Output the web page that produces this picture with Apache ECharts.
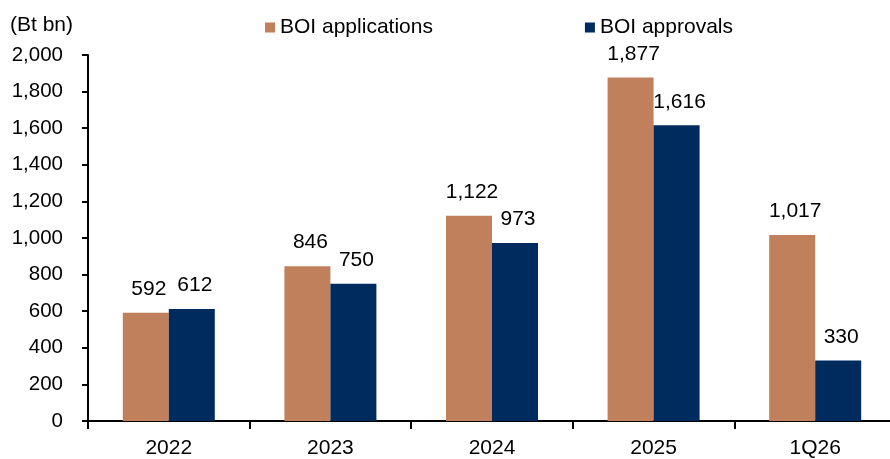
<!DOCTYPE html>
<html>
<head>
<meta charset="utf-8">
<script src="https://cdn.jsdelivr.net/npm/echarts@6/dist/echarts.min.js"></script>
<style>
html,body{margin:0;padding:0;background:#fff;overflow:hidden;width:890px;height:459px;}
#chart{width:897px;height:459px;}
</style>
</head>
<body>
<div id="chart"></div>
<script>
const categories = ['2022', '2023', '2024', '2025', '1Q26'];
const applications = [592, 846, 1122, 1877, 1017];
const approvals = [612, 750, 973, 1616, 330];
const seriesNames = ['BOI applications', 'BOI approvals'];
const unitLabel = '(Bt bn)';

const FONT = 'Liberation Sans, Arial, sans-serif';
const fmt = v => String(v).replace(/\B(?=(\d{3})+(?!\d))/g, ',');

const chart = echarts.init(document.getElementById('chart'), null, {renderer: 'canvas'});
chart.setOption({
  animation: false,
  backgroundColor: '#ffffff',
  textStyle: {fontFamily: FONT, color: '#000'},
  graphic: [{
    type: 'text', left: 10, top: 15,
    style: {text: unitLabel, font: '21px ' + FONT, fill: '#000'}
  }],
  legend: {
    left: 260, top: 12,
    icon: 'rect', itemWidth: 10, itemHeight: 10, itemGap: 152,
    textStyle: {fontSize: 21, fontFamily: FONT, color: '#000'},
    data: seriesNames
  },
  grid: {left: 88, right: 1, top: 55, bottom: 36, containLabel: false},
  xAxis: {
    type: 'category',
    data: categories,
    axisLine: {lineStyle: {color: '#000', width: 2}},
    axisTick: {show: true, length: 8, lineStyle: {color: '#000', width: 2}},
    axisLabel: {fontSize: 21, fontFamily: FONT, color: '#000', margin: 17}
  },
  yAxis: {
    type: 'value', min: 0, max: 2000, interval: 200,
    axisLine: {show: true, lineStyle: {color: '#000', width: 2}},
    axisTick: {show: true, length: 6, lineStyle: {color: '#000', width: 2}},
    splitLine: {show: false},
    axisLabel: {fontSize: 20.5, fontFamily: FONT, color: '#000', margin: 25, formatter: fmt}
  },
  series: [
    {
      name: seriesNames[0], type: 'bar', data: applications,
      barWidth: 46, barGap: '0%',
      itemStyle: {color: '#C0805B'},
      label: {show: true, position: 'top', distance: 13, offset: [3, 0],
        fontSize: 21, fontFamily: FONT, color: '#000', formatter: p => fmt(p.value)}
    },
    {
      name: seriesNames[1], type: 'bar', data: approvals,
      barWidth: 46, barGap: '0%',
      itemStyle: {color: '#002B5F'},
      label: {show: true, position: 'top', distance: 13, offset: [3, 0],
        fontSize: 21, fontFamily: FONT, color: '#000', formatter: p => fmt(p.value)}
    }
  ]
});
</script>
</body>
</html>
